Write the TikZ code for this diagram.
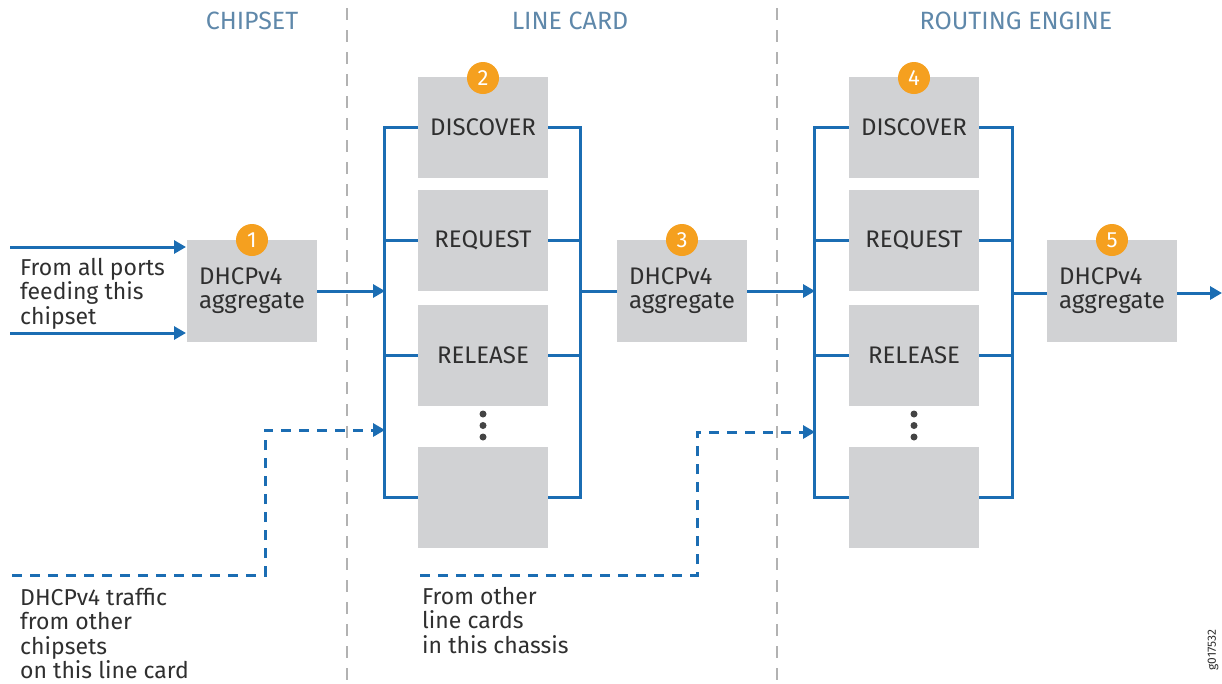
\documentclass[tikz,border=0pt]{standalone}
\usepackage{fontspec}
\setmainfont{Fira Sans}
\usetikzlibrary{arrows.meta}
\definecolor{jblue}{HTML}{1B6DB3}
\definecolor{jgray}{HTML}{D1D2D4}
\definecolor{jorange}{HTML}{F5A01F}
\definecolor{jhead}{HTML}{5F88AA}
\definecolor{jtext}{HTML}{2F2F2F}
\begin{document}
\begin{tikzpicture}[x=1pt,y=-1pt,
  box/.style={fill=jgray,minimum width=130pt,minimum height=101pt,inner sep=0pt,text=jtext,font=\fontsize{24}{24}\selectfont},
  aggbox/.style={box,minimum height=102pt,align=left},
  badge/.style={circle,fill=jorange,minimum size=32pt,inner sep=0pt,text=white,font=\fontsize{22}{22}\selectfont},
  bus/.style={draw=jblue,line width=3pt},
  arr/.style={bus,-{Triangle[length=12pt,width=13pt]}},
  darr/.style={arr,dash pattern=on 10pt off 8pt},
  sep/.style={draw=black!30,line width=2pt,dash pattern=on 12pt off 10pt},
  head/.style={text=jhead,font=\fontsize{25}{25}\selectfont},
  lbl/.style={anchor=north west,align=left,text=jtext,font=\fontsize{23}{24.3}\selectfont,inner sep=0pt},
  dot/.style={circle,fill=jtext!90,minimum size=7pt,inner sep=0pt}]
\useasboundingbox (0,0) rectangle (1222,683);
% separators
\coordinate (s1t) at (347,8); \coordinate (s1b) at (347,683);
\coordinate (s2t) at (777,8); \coordinate (s2b) at (777,683);
\draw[sep] (s1t) -- (s1b);
\draw[sep] (s2t) -- (s2b);
% headers
\node[head] (h1) at (252,21) {CHIPSET};
\node[head] (h2) at (570,21) {LINE CARD};
\node[head] (h3) at (1016,21) {ROUTING ENGINE};
% chipset
\node[aggbox] (b1) at (252,291) {DHCPv4\\aggregate};
\node[badge] (n1) at (252,240) {1};
\coordinate (in1) at (10,247); \coordinate (in1e) at (186,247);
\coordinate (in2) at (10,333); \coordinate (in2e) at (186,333);
\draw[arr] (in1) -- (in1e);
\draw[arr] (in2) -- (in2e);
\node[lbl] (t1) at (20,258) {From all ports\\feeding this\\chipset};
% line card
\node[box] (d1) at (483,127.5) {DISCOVER};
\node[box] (r1) at (483,240.5) {REQUEST};
\node[box] (l1) at (483,355.5) {RELEASE};
\node[box] (e1) at (483,497) {};
\node[badge] (n2) at (483,78) {2};
\node[dot] (p1) at (483,414) {};
\node[dot] (p2) at (483,425.5) {};
\node[dot] (p3) at (483,437) {};
\draw[bus] (d1.west) -- ++(-33,0) |- (e1.west);
\draw[bus] (r1.west) -- ++(-33,0);
\draw[bus] (l1.west) -- ++(-33,0);
\draw[bus] (d1.east) -- ++(32,0) |- (e1.east);
\draw[bus] (r1.east) -- ++(32,0);
\draw[bus] (l1.east) -- ++(32,0);
\coordinate (lcL) at (385,291);
\coordinate (lcL2) at (385,430);
\coordinate (lcR) at (580,291);
\draw[arr] (b1.east) -- (lcL);
% aggregate 3
\node[aggbox] (b3) at (682,291) {DHCPv4\\aggregate};
\node[badge] (n3) at (682,240) {3};
\draw[bus] (lcR) -- (b3.west);
% routing engine
\node[box] (d2) at (914,127.5) {DISCOVER};
\node[box] (r2) at (914,240.5) {REQUEST};
\node[box] (l2) at (914,355.5) {RELEASE};
\node[box] (e2) at (914,497) {};
\node[badge] (n4) at (914,78) {4};
\node[dot] (q1) at (914,414) {};
\node[dot] (q2) at (914,425.5) {};
\node[dot] (q3) at (914,437) {};
\draw[bus] (d2.west) -- ++(-34,0) |- (e2.west);
\draw[bus] (r2.west) -- ++(-34,0);
\draw[bus] (l2.west) -- ++(-34,0);
\draw[bus] (d2.east) -- ++(33,0) |- (e2.east);
\draw[bus] (r2.east) -- ++(33,0);
\draw[bus] (l2.east) -- ++(33,0);
\coordinate (reL) at (815,291);
\coordinate (reL2) at (815,432);
\coordinate (reR) at (1012,293);
\draw[arr] (b3.east) -- (reL);
% aggregate 5
\node[aggbox] (b5) at (1112,291) {DHCPv4\\aggregate};
\node[badge] (n5) at (1112,240) {5};
\draw[bus] (reR) -- (reR-|b5.west);
\coordinate (out) at (1222,293);
\draw[arr] (reR-|b5.east) -- (out);
% dashed inputs
\coordinate (dA) at (12,575);
\draw[darr] (dA) -| (265,430) -- (lcL2);
\node[lbl] (t2) at (20,588) {DHCPv4 traffic\\from other\\chipsets\\on this line card};
\coordinate (dB) at (420,575);
\draw[darr] (dB) -| (697,432) -- (reL2);
\node[lbl] (t3) at (422,587) {From other\\line cards\\in this chassis};
% figure id
\node[rotate=90,text=jtext,font=\fontsize{12}{12}\selectfont] (gid) at (1213,650) {g017532};
\end{tikzpicture}
\end{document}
